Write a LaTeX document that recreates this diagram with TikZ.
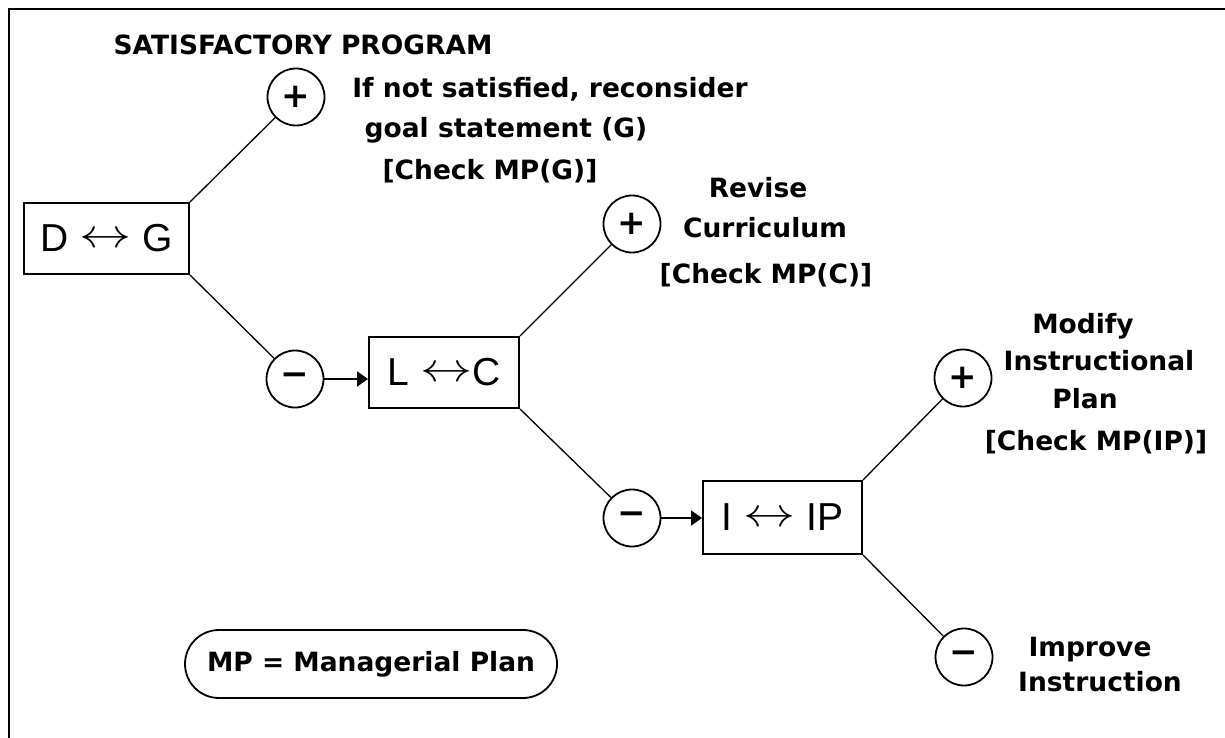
\documentclass[tikz,border=0pt]{standalone}
\usepackage{fontspec}
\usepackage{graphicx}
\usetikzlibrary{arrows.meta,shapes.misc}
\newfontfamily\lblfont{DejaVu Sans}
\newfontfamily\boxfont{Liberation Sans}
% long two-headed relation arrow, centred on the capital letters
\newcommand{\relarrow}{\raisebox{4.5pt}{\scalebox{1}[0.78]{\resizebox{52pt}{!}{$\leftrightarrow$}}}}
\begin{document}
\begin{tikzpicture}[x=1pt,y=-1pt,
  lbl/.style={font={\fontsize{26.5}{30}\lblfont\bfseries}, inner sep=0pt, anchor=base},
  relbox/.style={draw, line width=2pt, minimum height=71pt, inner sep=0pt,
    font={\fontsize{39}{44}\boxfont}},
  sign/.style={circle, draw, line width=1.8pt, minimum size=57pt, inner sep=0pt,
    font={\fontsize{34}{34}\lblfont\bfseries}},
  legend/.style={rounded rectangle, draw, line width=1.8pt, minimum width=372pt,
    minimum height=68pt, inner sep=0pt, font={\fontsize{26.5}{30}\lblfont\bfseries}},
  link/.style={line width=1.3pt},
  feed/.style={line width=2pt, -{Triangle[length=11pt,width=15pt]}}
]
% page and frame
\fill[white] (0,0) rectangle (1225,738);
\useasboundingbox (0,0) rectangle (1225,738);
\draw[line width=2.5pt] (9,738) -- (9,9) -- (1225,9);

% relation boxes
\node[relbox, minimum width=165pt] (dg)  at (106.5,238.5) {D \relarrow{} G};
\node[relbox, minimum width=150pt] (lc)  at (444,372.5)   {L \relarrow{}C};
\node[relbox, minimum width=159pt, minimum height=73pt] (iip) at (782.5,517.5) {I \relarrow{} IP};

% outcome circles
\node[sign] (p1) at (296,97)  {+};
\node[sign] (m1) at (295,379) {−};
\node[sign] (p2) at (632,224) {+};
\node[sign] (m2) at (632,518) {−};
\node[sign] (p3) at (963,378) {+};
\node[sign] (m3) at (964,657) {−};

% branches
\draw[link] (dg.north east) -- (p1);
\draw[link] (dg.south east) -- (m1);
\draw[link] (lc.north east) -- (p2);
\draw[link] (lc.south east) -- (m2);
\draw[link] (iip.north east) -- (p3);
\draw[link] (iip.south east) -- (m3);

% negative outcomes lead to the next check
\draw[feed] (m1.east) -- (m1.east -| lc.west);
\draw[feed] (m2.east) -- (m2.east -| iip.west);

% labels
\node[lbl] (title) at (303,55)  {SATISFACTORY PROGRAM};
\node[lbl] (g1) at (550,98)  {If not satisfied, reconsider};
\node[lbl] (g2) at (506,138) {goal statement (G)};
\node[lbl] (g3) at (490,180) {[Check MP(G)]};
\node[lbl] (c1) at (758,197) {Revise};
\node[lbl] (c2) at (765,237) {Curriculum};
\node[lbl] (c3) at (766,283) {[Check MP(C)]};
\node[lbl] (i1) at (1083,333) {Modify};
\node[lbl] (i2) at (1099,370) {Instructional};
\node[lbl] (i3) at (1085,408) {Plan};
\node[lbl] (i4) at (1096,450) {[Check MP(IP)]};
\node[lbl] (r1) at (1090,656) {Improve};
\node[lbl] (r2) at (1100,691) {Instruction};

% legend
\node[legend] (mp) at (371,664) {MP = Managerial Plan};
\end{tikzpicture}
\end{document}
